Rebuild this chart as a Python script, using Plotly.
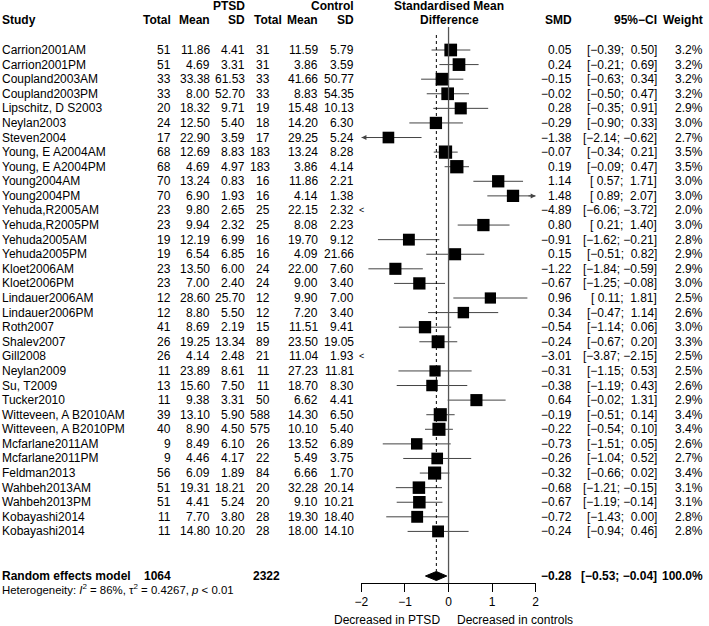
import plotly.graph_objects as go

# ---------------- data ----------------
studies = ["Carrion2001AM", "Carrion2001PM", "Coupland2003AM", "Coupland2003PM",
           "Lipschitz, D S2003", "Neylan2003", "Steven2004", "Young, E A2004AM",
           "Young, E A2004PM", "Young2004AM", "Young2004PM", "Yehuda,R2005AM",
           "Yehuda,R2005PM", "Yehuda2005AM", "Yehuda2005PM", "Kloet2006AM",
           "Kloet2006PM", "Lindauer2006AM", "Lindauer2006PM", "Roth2007",
           "Shalev2007", "Gill2008", "Neylan2009", "Su, T2009", "Tucker2010",
           "Witteveen, A B2010AM", "Witteveen, A B2010PM", "Mcfarlane2011AM",
           "Mcfarlane2011PM", "Feldman2013", "Wahbeh2013AM", "Wahbeh2013PM",
           "Kobayashi2014", "Kobayashi2014"]
n_ptsd = [51, 51, 33, 33, 20, 24, 17, 68, 68, 70, 70, 23, 23, 19, 19, 23, 23, 12, 12,
          41, 26, 26, 11, 13, 11, 39, 40, 9, 9, 56, 51, 51, 11, 11]
mean_ptsd = [11.86, 4.69, 33.38, 8.00, 18.32, 12.50, 22.90, 12.69, 4.69, 13.24, 6.90,
             9.80, 9.94, 12.19, 6.54, 13.50, 7.00, 28.60, 8.80, 8.69, 19.25, 4.14,
             23.89, 15.60, 9.38, 13.10, 8.90, 8.49, 4.46, 6.09, 19.31, 4.41, 7.70, 14.80]
sd_ptsd = [4.41, 3.31, 61.53, 52.70, 9.71, 5.40, 3.59, 8.83, 4.97, 0.83, 1.93, 2.65,
           2.32, 6.99, 6.85, 6.00, 2.40, 25.70, 5.50, 2.19, 13.34, 2.48, 8.61, 7.50,
           3.31, 5.90, 4.50, 6.10, 4.17, 1.89, 18.21, 5.24, 3.80, 10.20]
n_ctrl = [31, 31, 33, 33, 19, 18, 17, 183, 183, 16, 16, 25, 25, 16, 16, 24, 24, 12, 12,
          15, 89, 21, 11, 11, 50, 588, 575, 26, 22, 84, 20, 20, 28, 28]
mean_ctrl = [11.59, 3.86, 41.66, 8.83, 15.48, 14.20, 29.25, 13.24, 3.86, 11.86, 4.14,
             22.15, 8.08, 19.70, 4.09, 22.00, 9.00, 9.90, 7.20, 11.51, 23.50, 11.04,
             27.23, 18.70, 6.62, 14.30, 10.10, 13.52, 5.49, 6.66, 32.28, 9.10, 19.30, 18.00]
sd_ctrl = [5.79, 3.59, 50.77, 54.35, 10.13, 6.30, 5.24, 8.28, 4.14, 2.21, 1.38, 2.32,
           2.23, 9.12, 21.66, 7.60, 3.40, 7.00, 3.40, 9.41, 19.05, 1.93, 11.81, 8.30,
           4.41, 6.50, 5.40, 6.89, 3.75, 1.70, 20.14, 10.21, 18.40, 14.10]
smd = [0.05, 0.24, -0.15, -0.02, 0.28, -0.29, -1.38, -0.07, 0.19, 1.14, 1.48, -4.89,
       0.80, -0.91, 0.15, -1.22, -0.67, 0.96, 0.34, -0.54, -0.24, -3.01, -0.31, -0.38,
       0.64, -0.19, -0.22, -0.73, -0.26, -0.32, -0.68, -0.67, -0.72, -0.24]
ci_lo = [-0.39, -0.21, -0.63, -0.50, -0.35, -0.90, -2.14, -0.34, -0.09, 0.57, 0.89,
         -6.06, 0.21, -1.62, -0.51, -1.84, -1.25, 0.11, -0.47, -1.14, -0.67, -3.87,
         -1.15, -1.19, -0.02, -0.51, -0.54, -1.51, -1.04, -0.66, -1.21, -1.19, -1.43, -0.94]
ci_hi = [0.50, 0.69, 0.34, 0.47, 0.91, 0.33, -0.62, 0.21, 0.47, 1.71, 2.07, -3.72,
         1.40, -0.21, 0.82, -0.59, -0.08, 1.81, 1.14, 0.06, 0.20, -2.15, 0.53, 0.43,
         1.31, 0.14, 0.10, 0.05, 0.52, 0.02, -0.15, -0.14, 0.00, 0.46]
weight = [3.2, 3.2, 3.2, 3.2, 2.9, 3.0, 2.7, 3.5, 3.5, 3.0, 3.0, 2.0, 3.0, 2.8, 2.9,
          2.9, 3.0, 2.5, 2.6, 3.0, 3.3, 2.5, 2.5, 2.6, 2.9, 3.4, 3.4, 2.6, 2.7, 3.4,
          3.1, 3.1, 2.8, 2.8]
pooled = {"label": "Random effects model", "n_ptsd": 1064, "n_ctrl": 2322,
          "smd": -0.28, "lo": -0.53, "hi": -0.04, "weight": 100.0}
heterogeneity = "Heterogeneity: <i>I</i><sup>2</sup> = 86%, \u03c4<sup>2</sup> = 0.4267, <i>p</i> < 0.01"
tick_vals = [-2, -1, 0, 1, 2]
label_left = "Decreased in PTSD"
label_right = "Decreased in controls"

# ---------------- layout helpers ----------------
W, H = 709, 626
XMIN, XMAX = -2, 2
FONT = "Liberation Sans, Arial, Helvetica, sans-serif"
LINE_COL = "#444444"
row0, row_step = 50.0, 496.0 / 34
rows = [row0 + i * row_step for i in range(len(studies))]
y_pool = 576
y_het = 589
y_axis = 583
X_LEFT = -6   # left edge for the study column (compensates for text box offset)


def mfmt(v, d=2):
    s = f"{v:.{d}f}"
    return s.replace("-", "\u2212")


def pad(v):
    s = mfmt(v)
    return s if v < 0 else " " + s


def ci_text(lo, hi):
    return "[" + pad(lo) + "; " + pad(hi) + "]"


annotations = []


def txt(text, xpx, y, anchor="right", bold=False, size=12, color="black"):
    if bold:
        text = f"<b>{text}</b>"
    annotations.append(dict(text=text, x=xpx / W, xref="paper", y=y, yref="y",
                            xanchor=anchor, yanchor="middle", showarrow=False,
                            borderpad=0,
                            font=dict(family=FONT, size=size, color=color)))


# headers
txt("PTSD", 243, 6, bold=True)
txt("Control", 353, 6, bold=True)
txt("Standardised Mean", 449, 6, anchor="center", bold=True)
txt("Study", X_LEFT, 20, anchor="left", bold=True)
txt("Total", 168, 20, bold=True)
txt("Mean", 207, 20, bold=True)
txt("SD", 243, 20, bold=True)
txt("Total", 280, 20, bold=True)
txt("Mean", 317, 20, bold=True)
txt("SD", 353, 20, bold=True)
txt("Difference", 449, 20, anchor="center", bold=True)
txt("SMD", 575, 20, bold=True)
txt("95%\u2212CI", 661, 20, bold=True)
txt("Weight", 708, 20, bold=True)

for i, y in enumerate(rows):
    txt(studies[i], X_LEFT, y, anchor="left")
    txt(str(n_ptsd[i]), 168, y)
    txt(mfmt(mean_ptsd[i]), 207, y)
    txt(mfmt(sd_ptsd[i]), 243, y)
    txt(str(n_ctrl[i]), 268, y)
    txt(mfmt(mean_ctrl[i]), 317, y)
    txt(mfmt(sd_ctrl[i]), 353, y)
    txt(mfmt(smd[i]), 575, y)
    txt(ci_text(ci_lo[i], ci_hi[i]), 661, y)
    txt(f"{weight[i]:.1f}%", 708, y)

# pooled row
txt(pooled["label"], X_LEFT, y_pool, anchor="left", bold=True)
txt(str(pooled["n_ptsd"]), 168, y_pool, bold=True)
txt(str(pooled["n_ctrl"]), 278, y_pool, bold=True)
txt(mfmt(pooled["smd"]), 575, y_pool, bold=True)
txt(ci_text(pooled["lo"], pooled["hi"]), 661, y_pool, bold=True)
txt(f"{pooled['weight']:.1f}%", 708, y_pool, bold=True)
txt(heterogeneity, X_LEFT, y_het, anchor="left", size=11.4)

# bottom labels
txt(label_left, 441, 620, anchor="right")
txt(label_right, 456, 620, anchor="left")

# ---------------- marks ----------------
fig = go.Figure()

ci_x, ci_y = [], []
sq_x, sq_y, sq_s = [], [], []
for i, y in enumerate(rows):
    lo, hi = ci_lo[i], ci_hi[i]
    if hi < XMIN or lo > XMAX:
        # whole interval off scale
        annotations.append(dict(text="<" if hi < XMIN else ">", x=XMIN if hi < XMIN else XMAX,
                                xref="x", y=y, yref="y", xanchor="center", yanchor="middle",
                                showarrow=False, font=dict(family=FONT, size=9, color="black")))
        continue
    ci_x += [max(lo, XMIN), min(hi, XMAX), None]
    ci_y += [y, y, None]
    if lo < XMIN:
        annotations.append(dict(x=XMIN, y=y, xref="x", yref="y", ax=XMIN + 0.2, ay=y,
                                axref="x", ayref="y", text="", showarrow=True,
                                arrowhead=2, arrowsize=1, arrowwidth=1, arrowcolor=LINE_COL,
                                standoff=0))
    if hi > XMAX:
        annotations.append(dict(x=XMAX, y=y, xref="x", yref="y", ax=XMAX - 0.2, ay=y,
                                axref="x", ayref="y", text="", showarrow=True,
                                arrowhead=2, arrowsize=1, arrowwidth=1, arrowcolor=LINE_COL,
                                standoff=0))
    if XMIN <= smd[i] <= XMAX:
        sq_x.append(smd[i])
        sq_y.append(y)
        sq_s.append(7.1 * weight[i] ** 0.5)

fig.add_trace(go.Scatter(x=ci_x, y=ci_y, mode="lines", line=dict(color=LINE_COL, width=1),
                         hoverinfo="skip", showlegend=False, cliponaxis=False))
fig.add_trace(go.Scatter(x=sq_x, y=sq_y, mode="markers",
                         marker=dict(symbol="square", size=sq_s, color="#000000",
                                     opacity=1, line=dict(width=0)),
                         showlegend=False, cliponaxis=False))
# pooled diamond
dh = 4.5
fig.add_trace(go.Scatter(x=[pooled["lo"], pooled["smd"], pooled["hi"], pooled["smd"], pooled["lo"]],
                         y=[y_pool, y_pool - dh, y_pool, y_pool + dh, y_pool],
                         mode="lines", fill="toself", fillcolor="black",
                         line=dict(color="black", width=1), showlegend=False,
                         hoverinfo="skip", cliponaxis=False))

shapes = [
    dict(type="line", xref="x", yref="y", x0=0, x1=0, y0=27, y1=y_axis,
         line=dict(color="#555555", width=1.3)),
    dict(type="line", xref="x", yref="y", x0=pooled["smd"], x1=pooled["smd"],
         y0=35, y1=y_pool - dh, line=dict(color="black", width=1, dash="dot")),
]

fig.update_layout(
    width=W, height=H, autosize=False,
    margin=dict(l=0, r=0, t=0, b=0, pad=0),
    paper_bgcolor="white", plot_bgcolor="white",
    showlegend=False,
    xaxis=dict(domain=[360 / W, 537 / W], range=[XMIN, XMAX], anchor="free",
               position=(H - y_axis) / H, showline=True, linecolor="black",
               linewidth=1, ticks="outside", ticklen=8, tickwidth=1,
               tickcolor="black", tickvals=tick_vals,
               ticktext=[mfmt(v, 0) for v in tick_vals],
               tickfont=dict(family=FONT, size=12, color="black"),
               showgrid=False, zeroline=False, fixedrange=True),
    yaxis=dict(domain=[0, 1], range=[H, 0], visible=False, showgrid=False,
               zeroline=False, fixedrange=True),
    annotations=annotations,
    shapes=shapes,
)

fig.write_html("out.html", config={"displayModeBar": False},
               post_script="document.body.style.margin='0px';document.body.style.overflow='hidden';")
